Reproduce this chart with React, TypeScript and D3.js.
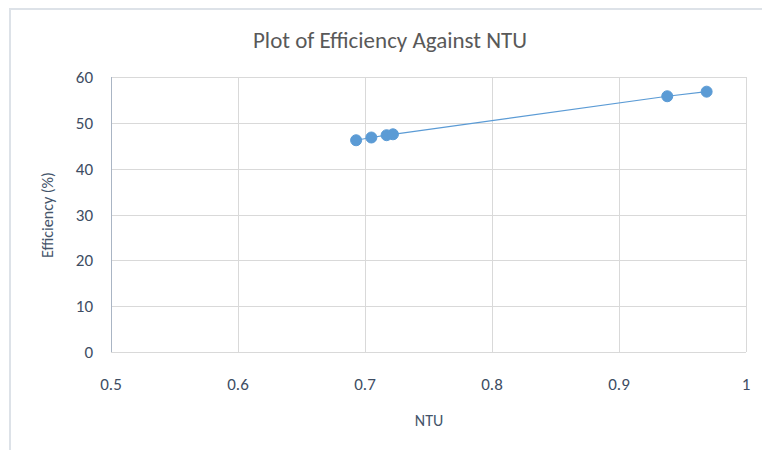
import React, { useEffect, useRef } from 'react';
import * as d3 from 'd3';

// NTU vs efficiency readings
const ntu = [0.693, 0.705, 0.717, 0.722, 0.938, 0.969];
const efficiency = [46.2, 46.8, 47.3, 47.5, 55.8, 56.8];
const xTicks = [0.5, 0.6, 0.7, 0.8, 0.9, 1];
const yTicks = [0, 10, 20, 30, 40, 50, 60];

const FONT = "Carlito, Calibri, Lato, 'Open Sans', sans-serif";

const App: React.FC = () => {
  const svgRef = useRef<SVGSVGElement>(null);

  useEffect(() => {
    document.body.style.margin = '0';
    if (!svgRef.current) return;

    const width = 762;
    const height = 450;
    const plot = { left: 111, right: 746, top: 77, bottom: 352 };

    const svg = d3.select(svgRef.current);
    svg.selectAll('*').remove();

    svg.append('rect').attr('width', width).attr('height', height).attr('fill', 'white');

    // chart frame (clipped at the right/bottom edge)
    svg.append('rect')
      .attr('x', 10).attr('y', 9)
      .attr('width', width + 20).attr('height', height + 20)
      .attr('fill', 'none')
      .attr('stroke', '#dde2e8')
      .attr('stroke-width', 2);

    const x = d3.scaleLinear().domain([0.5, 1]).range([plot.left, plot.right]);
    const y = d3.scaleLinear().domain([0, 60]).range([plot.bottom, plot.top]);

    // gridlines
    svg.append('g')
      .selectAll('line')
      .data(yTicks)
      .join('line')
      .attr('x1', plot.left).attr('x2', plot.right)
      .attr('y1', d => Math.round(y(d)) + 0.5).attr('y2', d => Math.round(y(d)) + 0.5)
      .attr('stroke', '#d9d9d9');

    svg.append('g')
      .selectAll('line')
      .data(xTicks.slice(1))
      .join('line')
      .attr('x1', d => Math.round(x(d)) + 0.5).attr('x2', d => Math.round(x(d)) + 0.5)
      .attr('y1', plot.top).attr('y2', plot.bottom)
      .attr('stroke', '#d9d9d9');

    // y axis line
    svg.append('line')
      .attr('x1', plot.left + 0.5).attr('x2', plot.left + 0.5)
      .attr('y1', plot.top).attr('y2', plot.bottom)
      .attr('stroke', '#aab5c4');

    // tick labels
    svg.append('g')
      .selectAll('text')
      .data(yTicks)
      .join('text')
      .attr('x', 93)
      .attr('y', d => y(d) + 6)
      .attr('text-anchor', 'end')
      .attr('font-family', FONT)
      .attr('font-size', 17)
      .attr('fill', '#3e4d63')
      .text(d => d);

    svg.append('g')
      .selectAll('text')
      .data(xTicks)
      .join('text')
      .attr('x', d => x(d))
      .attr('y', 390)
      .attr('text-anchor', 'middle')
      .attr('font-family', FONT)
      .attr('font-size', 17)
      .attr('fill', '#3e4d63')
      .text(d => d3.format('')(d));

    // title & axis titles
    svg.append('text')
      .attr('x', 390).attr('y', 48)
      .attr('text-anchor', 'middle')
      .attr('font-family', FONT)
      .attr('font-size', 23)
      .attr('fill', '#595959')
      .text('Plot of Efficiency Against NTU');

    svg.append('text')
      .attr('x', 429).attr('y', 426)
      .attr('text-anchor', 'middle')
      .attr('font-family', FONT)
      .attr('font-size', 16)
      .attr('fill', '#44546a')
      .text('NTU');

    svg.append('text')
      .attr('transform', 'translate(53,215) rotate(-90)')
      .attr('text-anchor', 'middle')
      .attr('font-family', FONT)
      .attr('font-size', 16)
      .attr('fill', '#44546a')
      .text('Efficiency (%)');

    // series
    const pts = ntu.map((v, i) => [v, efficiency[i]] as [number, number]);
    const line = d3.line<[number, number]>().x(d => x(d[0])).y(d => y(d[1]));

    svg.append('path')
      .attr('d', line(pts) as string)
      .attr('fill', 'none')
      .attr('stroke', '#5b9bd5')
      .attr('stroke-width', 1.2);

    svg.append('g')
      .selectAll('circle')
      .data(pts)
      .join('circle')
      .attr('cx', d => x(d[0]))
      .attr('cy', d => y(d[1]))
      .attr('r', 5.5)
      .attr('fill', '#5b9bd5')
      .attr('stroke', '#5b9bd5')
      .attr('stroke-width', 1);
  }, []);

  return <svg ref={svgRef} width={762} height={450} style={{ display: 'block' }}></svg>;
};

export default App;
